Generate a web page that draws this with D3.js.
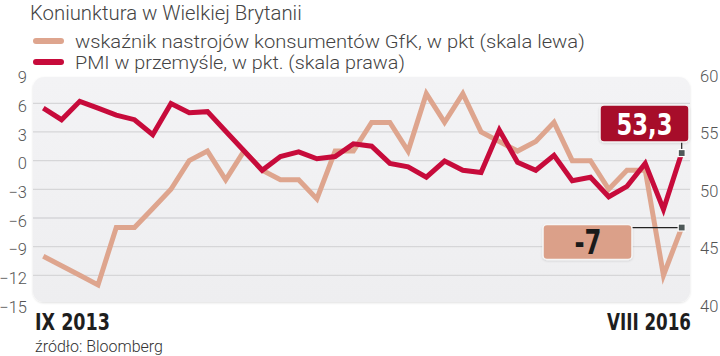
<!DOCTYPE html>
<html><head><meta charset="utf-8">
<script src="https://cdn.jsdelivr.net/npm/d3@7"></script>
<style>
html,body{margin:0;padding:0;background:#fff;}
svg{display:block;}
text{font-family:Roboto,"Liberation Sans",sans-serif;}
.light{font-family:Roboto,"Open Sans",sans-serif;font-weight:300;}
.bold{font-family:"Liberation Sans Narrow","DejaVu Sans Condensed","Liberation Sans",sans-serif;font-weight:bold;}
</style></head>
<body>
<svg id="chart" width="720" height="356"></svg>
<script>
// ---- data ----
const title = "Koniunktura w Wielkiej Brytanii";
const seriesNames = ["wskaźnik nastrojów konsumentów GfK, w pkt (skala lewa)", "PMI w przemyśle, w pkt. (skala prawa)"];
const months = ["IX 2013","X 2013","XI 2013","XII 2013","I 2014","II 2014","III 2014","IV 2014","V 2014","VI 2014","VII 2014","VIII 2014",
  "IX 2014","X 2014","XI 2014","XII 2014","I 2015","II 2015","III 2015","IV 2015","V 2015","VI 2015","VII 2015","VIII 2015",
  "IX 2015","X 2015","XI 2015","XII 2015","I 2016","II 2016","III 2016","IV 2016","V 2016","VI 2016","VII 2016","VIII 2016"];
const gfk = [-10,-11,-12,-13,-7,-7,-5,-3,0,1,-2,1,-1,-2,-2,-4,1,1,4,4,1,7,4,7,3,2,1,2,4,0,0,-3,-1,-1,-12,-7];
const pmi = [57.2,56.2,57.8,57.2,56.6,56.2,54.9,57.6,56.8,56.9,55.2,53.5,51.8,53.0,53.4,52.8,53.0,54.1,53.9,52.4,52.1,51.2,52.6,51.8,
  51.6,55.3,52.5,51.8,53.1,50.9,51.2,49.5,50.4,52.4,48.4,53.3];
const leftTicks = [9,6,3,0,-3,-6,-9,-12,-15];
const rightTicks = [60,55,50,45,40];
const xLabels = ["IX 2013","VIII 2016"];
const source = "źródło: Bloomberg";
const lastGfkLabel = "-7";
const lastPmiLabel = "53,3";

// ---- layout ----
const svg = d3.select("#chart");
const panel = {x0:33, x1:690, y0:77, y1:302};
const x = d3.scalePoint().domain(months).range([43.3, 681.7]);
const yL = d3.scaleLinear().domain([-15, 9]).range([304, 74.6]);
const yR = d3.scaleLinear().domain([40, 60]).range([306, 76]);
const cLight = "#dea58e", cRed = "#c70b3b";

// place a text so that it spans `w` px starting at (x0,y), squeezing horizontally with a transform
function fitText(cls, x0, y, size, fill, w, str){
  const t = svg.append("text").attr("class",cls).attr("font-size",size).attr("fill",fill).attr("x",0).attr("y",0).text(str);
  const nat = t.node().getComputedTextLength();
  const sx = nat > 0 ? w/nat : 1;
  t.attr("transform",`translate(${x0},${y}) scale(${sx},1)`);
  return t;
}

const defs = svg.append("defs");
const grad = defs.append("linearGradient").attr("id","pg").attr("x1",0).attr("x2",0).attr("y1",0).attr("y2",1);
grad.append("stop").attr("offset","0%").attr("stop-color","#f3f3f5");
grad.append("stop").attr("offset","100%").attr("stop-color","#eeeef0");
const flt = defs.append("filter").attr("id","sh").attr("x","-5%").attr("y","-5%").attr("width","110%").attr("height","115%");
flt.append("feDropShadow").attr("dx",0).attr("dy",1).attr("stdDeviation",1.2).attr("flood-color","#000").attr("flood-opacity",0.12);

svg.append("rect").attr("x",panel.x0).attr("y",panel.y0).attr("width",panel.x1-panel.x0).attr("height",panel.y1-panel.y0)
  .attr("rx",11).attr("fill","url(#pg)").attr("filter","url(#sh)");

// gridlines
svg.append("g").selectAll("line").data(leftTicks.filter(d=>d!==9 && d!==-15)).join("line")
  .attr("x1",panel.x0).attr("x2",panel.x1).attr("y1",d=>yL(d)).attr("y2",d=>yL(d))
  .attr("stroke","#d6d6d8").attr("stroke-width",1.3);

// axes (text only)
const axL = d3.axisLeft(yL).tickValues(leftTicks).tickSize(0).tickPadding(0);
const gL = svg.append("g").attr("transform","translate(27,3)").call(axL);
gL.select(".domain").remove();
gL.selectAll("text").attr("class","light").attr("font-size",16.5).attr("fill","#555").attr("font-family",null);

const axR = d3.axisRight(yR).tickValues(rightTicks).tickSize(0).tickPadding(0);
const gR = svg.append("g").attr("transform","translate(700,0)").call(axR);
gR.select(".domain").remove();
gR.selectAll("text").attr("class","light").attr("font-size",16.5).attr("fill","#555").attr("font-family",null);

// lines
const lineL = d3.line().x((d,i)=>x(months[i])).y(d=>yL(d));
const lineR = d3.line().x((d,i)=>x(months[i])).y(d=>yR(d));
svg.append("path").datum(gfk).attr("d",lineL).attr("fill","none").attr("stroke",cLight).attr("stroke-width",5).attr("stroke-linejoin","miter");
svg.append("path").datum(pmi).attr("d",lineR).attr("fill","none").attr("stroke",cRed).attr("stroke-width",5).attr("stroke-linejoin","miter");

// callouts
const last = months[months.length-1];
const lx = x(last), pyR = yR(pmi[pmi.length-1]), pyL = yL(gfk[gfk.length-1]);
// PMI
svg.append("line").attr("x1",lx).attr("x2",lx).attr("y1",141).attr("y2",pyR).attr("stroke","#222").attr("stroke-width",1.2);
svg.append("rect").attr("x",600).attr("y",105).attr("width",89).attr("height",37).attr("rx",4)
  .attr("fill","#a70e2c").attr("stroke","#f4f4f4").attr("stroke-width",1.5).attr("filter","url(#sh)");
fitText("bold", 616.5, 135, 30, "#fff", 56, lastPmiLabel);
svg.append("rect").attr("x",lx-3.5).attr("y",pyR-3.5).attr("width",7).attr("height",7).attr("fill","#4e5858").attr("stroke","#fff").attr("stroke-width",1.2);
// GfK
svg.append("line").attr("x1",632).attr("x2",lx).attr("y1",pyL).attr("y2",pyL).attr("stroke","#222").attr("stroke-width",1.2);
svg.append("rect").attr("x",543).attr("y",224.5).attr("width",89).attr("height",35).attr("rx",4)
  .attr("fill","#dba089").attr("stroke","#f6f6f6").attr("stroke-width",1.5).attr("filter","url(#sh)");
fitText("bold", 574.5, 254, 33, "#1a1a1a", 27, lastGfkLabel);
svg.append("rect").attr("x",lx-3.5).attr("y",pyL-3.5).attr("width",7).attr("height",7).attr("fill","#4e5858").attr("stroke","#fff").attr("stroke-width",1.2);

// title & legend
fitText("light", 30, 20, 20, "#444", 272, title);
const legY = [41, 62];
const legC = [cLight, cRed];
const legW = [510, 330];
seriesNames.forEach((n,i)=>{
  svg.append("line").attr("x1",36).attr("x2",61).attr("y1",legY[i]).attr("y2",legY[i]).attr("stroke",legC[i]).attr("stroke-width",6).attr("stroke-linecap","round");
  fitText("light", 75, legY[i]+6.5, 19, "#444", legW[i], n);
});

// x labels
fitText("bold", 35, 330, 23, "#1e1e1e", 75, xLabels[0]);
fitText("bold", 607, 330, 23, "#1e1e1e", 84, xLabels[1]);
fitText("light", 35, 352, 16, "#333", 128, source);
</script>
</body></html>
